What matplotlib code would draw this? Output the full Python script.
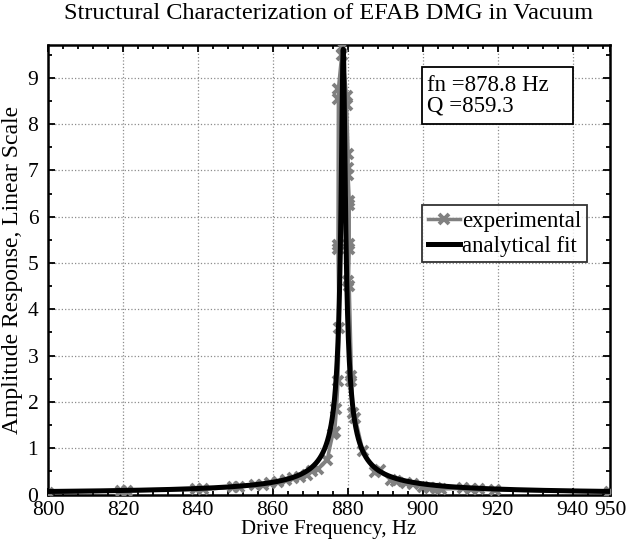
import numpy as np
import matplotlib
matplotlib.use("Agg")
import matplotlib.pyplot as plt
from matplotlib.ticker import MultipleLocator
from matplotlib.patches import Rectangle

plt.rcParams['font.family'] = ['Liberation Serif', 'DejaVu Serif']

exp_freq = [800, 819.5, 821, 839.5, 841.5, 849.5, 851, 855.3, 857.3, 859.3,
            861.3, 863.5, 865.3, 867.2, 869, 870.5, 872, 874.5, 876, 876.5,
            877.0, 877.4, 877.7, 877.4, 877.4, 877.5, 877.5, 878.6, 878.6,
            879.7, 879.7, 880.1, 880.1, 880.1, 880.4, 880.4, 880.4, 880.4,
            880.2, 880.4, 881.0, 881.0, 881.4, 882.0, 884.0, 887.2, 888.5,
            891.5, 893.0, 895.6, 897.5, 900.0, 902.0, 903.6, 905.0, 910.8,
            913.0, 915.0, 919.2, 950]
exp_amp = [0.04, 0.08, 0.08, 0.11, 0.11, 0.16, 0.16, 0.20, 0.21, 0.24,
           0.27, 0.31, 0.35, 0.38, 0.42, 0.50, 0.55, 0.75, 1.30, 1.35,
           1.85, 2.45, 3.60, 5.30, 5.40, 8.55, 8.75, 9.67, 9.50,
           8.60, 8.42, 7.35, 7.05, 6.90, 6.35, 6.25, 5.42, 5.30,
           4.62, 4.50, 2.56, 2.46, 1.75, 1.65, 0.95, 0.49, 0.53,
           0.32, 0.30, 0.24, 0.22, 0.17, 0.15, 0.13, 0.12, 0.13,
           0.12, 0.11, 0.10, 0.05]

# Analytical fit parameters
fn = 878.8
Q = 859.3
peak_amp = 9.62
f_start, f_stop = 800, 950

x_ticks = [800, 820, 840, 860, 880, 900, 920, 940, 950]
y_ticks = [0, 1, 2, 3, 4, 5, 6, 7, 8, 9]
y_max = 9.71

f_fit = np.linspace(f_start, f_stop, 6001)
r = f_fit / fn
fit_amp = (peak_amp / Q) / np.sqrt((1 - r**2)**2 + (r / Q)**2)

fig = plt.figure(figsize=(6.29, 5.42), dpi=100)
ax = fig.add_axes([48/629, 47.5/542, (610-48)/629, (494.5-45)/542])

gray = (0.5, 0.5, 0.5)
ax.plot(exp_freq, exp_amp, color=gray, lw=2.5, marker='x', ms=7, mew=2.8,
        label='experimental', zorder=3)
ax.plot(f_fit, fit_amp, color='black', lw=3.6, label='analytical fit', zorder=4)

ax.set_xlim(f_start, f_stop)
ax.set_ylim(0, y_max)
ax.set_xticks(x_ticks)
ax.set_yticks(y_ticks)
ax.xaxis.set_minor_locator(MultipleLocator(4))
ax.yaxis.set_minor_locator(MultipleLocator(0.5))
ax.tick_params(which='both', direction='in', top=True, right=True,
               labelsize=15.5, width=1.3)
ax.tick_params(which='major', length=5)
ax.tick_params(axis='x', which='major', pad=4.5)
ax.tick_params(axis='y', which='major', pad=7)
ax.tick_params(which='minor', length=3)
for s in ax.spines.values():
    s.set_linewidth(1.8)
ax.grid(True, which='major', linestyle=':', color='0.55', linewidth=0.9)
ax.set_axisbelow(True)

ax.set_title('Structural Characterization of EFAB DMG in Vacuum', fontsize=17.5, pad=19)
ax.set_xlabel('Drive Frequency, Hz', fontsize=15, labelpad=0)
ax.set_ylabel('Amplitude Response, Linear Scale', fontsize=17, labelpad=3)

# Annotation box
box_x0, box_x1 = 0.6655, 0.934
box_y0, box_y1 = 0.8236, 0.9517
ax.add_patch(Rectangle((box_x0, box_y0), box_x1 - box_x0, box_y1 - box_y0,
                       transform=ax.transAxes, fc='white', ec='black', lw=1.3,
                       zorder=6))
ax.text(box_x0 + 0.009, (box_y0 + box_y1) / 2, 'fn =878.8 Hz\nQ =859.3',
        transform=ax.transAxes, fontsize=16.5, va='center', ha='left',
        linespacing=1.0, zorder=7)

leg = ax.legend(loc='upper left', bbox_to_anchor=(0.6655, 0.643), fontsize=16.5,
                frameon=True, fancybox=False, edgecolor='black',
                borderpad=0.25, handlelength=1.4, handletextpad=0.1,
                labelspacing=0.15, borderaxespad=0)
leg.get_frame().set_linewidth(1.3)
leg.set_zorder(7)

fig.savefig('out.png', dpi=100)
